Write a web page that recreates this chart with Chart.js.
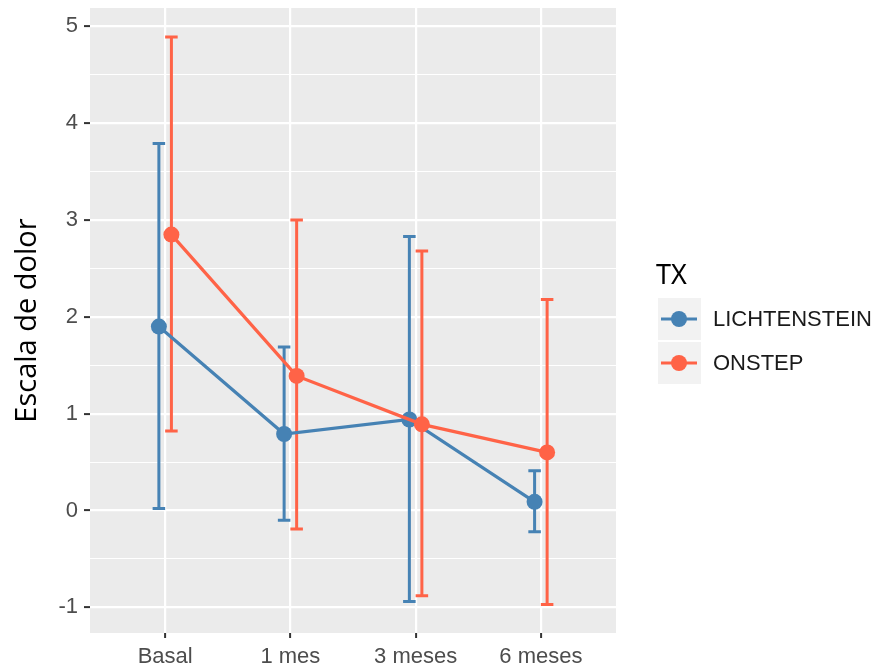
<!DOCTYPE html>
<html>
<head>
<meta charset="utf-8">
<script src="https://cdn.jsdelivr.net/npm/chart.js@4"></script>
<style>
  body { margin: 0; background: #fff; }
  canvas { display: block; }
</style>
</head>
<body>
<canvas id="chart" width="880" height="671"></canvas>
<script>
// data
const categories = ['Basal', '1 mes', '3 meses', '6 meses'];
const yTicks = [-1, 0, 1, 2, 3, 4, 5];

const lichMean = [1.90, 0.79, 0.94, 0.09];
const lichLow = [0.02, -0.10, -0.94, -0.22];
const lichHigh = [3.79, 1.69, 2.83, 0.41];

const onstepMean = [2.85, 1.39, 0.89, 0.60];
const onstepLow = [0.82, -0.19, -0.88, -0.97];
const onstepHigh = [4.89, 3.00, 2.68, 2.18];

const DODGE = 0.05;
const CAP = 0.05;

function toPoints(vals, shift) {
    return vals.map((v, i) => ({x: i + 1 + shift, y: v}));
}

// grey panel behind the plot
const panelBg = {
    id: 'panelBg',
    beforeDraw(chart) {
        const a = chart.chartArea;
        const ctx = chart.ctx;
        ctx.save();
        ctx.fillStyle = '#EBEBEB';
        ctx.fillRect(a.left, a.top, a.right - a.left, a.bottom - a.top);
        ctx.restore();
    }
};

// error bars with caps
const errorBars = {
    id: 'errorBars',
    beforeDatasetsDraw(chart) {
        const ctx = chart.ctx;
        const xs = chart.scales.x, ys = chart.scales.y;
        chart.data.datasets.forEach(ds => {
            ctx.save();
            ctx.strokeStyle = ds.borderColor;
            ctx.lineWidth = 3;
            ds.data.forEach((p, i) => {
                const x = xs.getPixelForValue(p.x);
                const x0 = xs.getPixelForValue(p.x - CAP);
                const x1 = xs.getPixelForValue(p.x + CAP);
                const yl = ys.getPixelForValue(ds.errLow[i]);
                const yh = ys.getPixelForValue(ds.errHigh[i]);
                ctx.beginPath();
                ctx.moveTo(x, yl); ctx.lineTo(x, yh);
                ctx.moveTo(x0, yl); ctx.lineTo(x1, yl);
                ctx.moveTo(x0, yh); ctx.lineTo(x1, yh);
                ctx.stroke();
            });
            ctx.restore();
        });
    }
};

// ggplot style legend on the right
const sideLegend = {
    id: 'sideLegend',
    afterDraw(chart) {
        const ctx = chart.ctx;
        ctx.save();
        ctx.fillStyle = '#000';
        ctx.font = '27px "Noto Sans"';
        ctx.textBaseline = 'alphabetic';
        ctx.fillText('TX', 656, 284);
        chart.data.datasets.forEach((ds, i) => {
            const top = 298 + i * 44;
            const cy = top + 21;
            ctx.fillStyle = '#F2F2F2';
            ctx.fillRect(658, top, 43, 42);
            ctx.strokeStyle = ds.borderColor;
            ctx.lineWidth = 3.2;
            ctx.beginPath();
            ctx.moveTo(661, cy); ctx.lineTo(697, cy);
            ctx.stroke();
            ctx.fillStyle = ds.borderColor;
            ctx.beginPath();
            ctx.arc(679, cy, 8, 0, Math.PI * 2);
            ctx.fill();
            ctx.fillStyle = '#1A1A1A';
            ctx.font = '22px "Liberation Sans"';
            ctx.textBaseline = 'middle';
            ctx.fillText(ds.label, 713, cy + 1);
        });
        ctx.restore();
    }
};

const minorTicks = yTicks.slice(0, -1).map(v => v + 0.5);
const allYTicks = yTicks.concat(minorTicks).sort((a, b) => a - b);

new Chart(document.getElementById('chart'), {
    type: 'line',
    data: {
        datasets: [{
            label: 'LICHTENSTEIN',
            data: toPoints(lichMean, -DODGE),
            errLow: lichLow,
            errHigh: lichHigh,
            borderColor: '#4682B4',
            backgroundColor: '#4682B4',
            order: 2
        }, {
            label: 'ONSTEP',
            data: toPoints(onstepMean, DODGE),
            errLow: onstepLow,
            errHigh: onstepHigh,
            borderColor: '#FF6347',
            backgroundColor: '#FF6347',
            order: 1
        }]
    },
    options: {
        responsive: false,
        animation: false,
        layout: {padding: {left: 0, right: 264, top: 8, bottom: 0}},
        elements: {
            line: {borderWidth: 3.2, tension: 0},
            point: {radius: 8, borderWidth: 0, hoverRadius: 8}
        },
        scales: {
            x: {
                type: 'linear',
                min: 0.4,
                max: 4.6,
                afterBuildTicks: axis => { axis.ticks = categories.map((c, i) => ({value: i + 1})); },
                afterFit: axis => { axis.height = 38; axis.paddingLeft = 0; axis.paddingRight = 0; },
                border: {display: false},
                grid: {color: '#FFFFFF', lineWidth: 2.2, tickColor: '#333333', tickLength: 5, tickWidth: 2},
                ticks: {
                    autoSkip: false,
                    maxRotation: 0,
                    padding: 6,
                    color: '#4D4D4D',
                    font: {family: '"Liberation Sans"', size: 22},
                    callback: v => categories[v - 1]
                }
            },
            y: {
                type: 'linear',
                min: -1.265,
                max: 5.19,
                afterBuildTicks: axis => { axis.ticks = allYTicks.map(v => ({value: v})); },
                afterFit: axis => { axis.width = 90; axis.paddingTop = 0; axis.paddingBottom = 0; },
                border: {display: false},
                grid: {
                    color: '#FFFFFF',
                    lineWidth: c => Number.isInteger(c.tick.value) ? 2.2 : 1.1,
                    tickColor: c => Number.isInteger(c.tick.value) ? '#333333' : 'rgba(0,0,0,0)',
                    tickLength: 6,
                    tickWidth: 2
                },
                ticks: {
                    autoSkip: false,
                    padding: 6,
                    color: '#4D4D4D',
                    font: {family: '"Liberation Sans"', size: 22},
                    callback: v => Number.isInteger(v) ? v : ''
                },
                title: {
                    display: true,
                    text: 'Escala de dolor',
                    color: '#000',
                    font: {family: '"Open Sans"', size: 29},
                    padding: {top: 10, bottom: 0}
                }
            }
        },
        plugins: {
            legend: {display: false},
            tooltip: {enabled: false}
        }
    },
    plugins: [panelBg, errorBars, sideLegend]
});
</script>
</body>
</html>
